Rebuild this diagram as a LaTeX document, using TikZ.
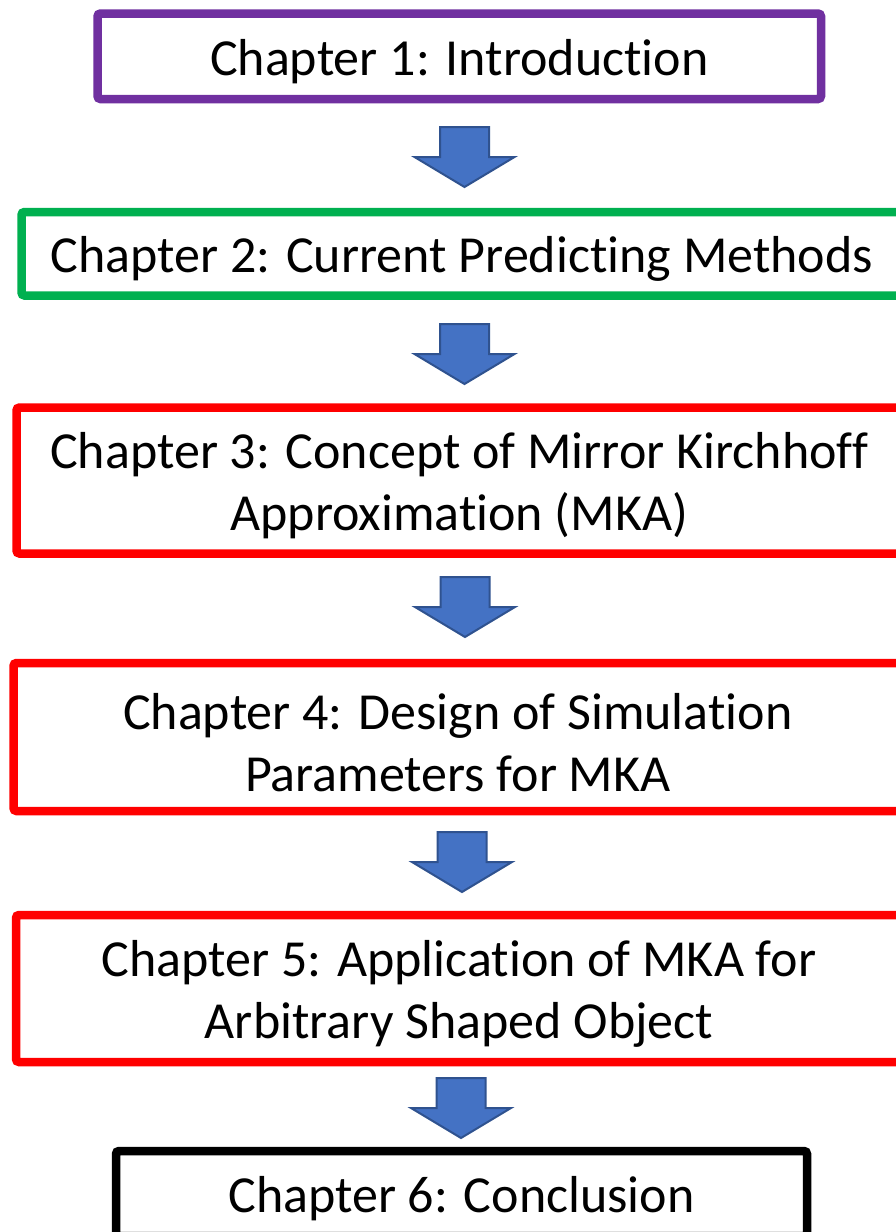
\documentclass[tikz,border=0pt]{standalone}
\usepackage{fontspec}
\setmainfont{Carlito}[Ligatures={NoCommon,NoContextual}, RawFeature={-calt}]
% extra headroom on the first line pushes each label a little below the box centre
\newcommand{\headroom}{\rule{0pt}{47pt}}
\begin{document}
\begin{tikzpicture}[x=1pt,y=-1pt,
  chapbox/.style={draw, line width=8.5pt, rounded corners=3pt, fill=white,
    inner sep=0pt, align=center, font=\fontsize{52}{62}\selectfont},
  blockarrow/.style={fill=arrowblue, draw=arrowedge, line width=2pt, line join=miter},
  downblock/.pic={
    \draw[blockarrow] (-24.5,0) -- (24.5,0) -- (24.5,30) -- (50,30)
      -- (0,60) -- (-50,30) -- (-24.5,30) -- cycle;}]
\definecolor{chpurple}{HTML}{7030A0}
\definecolor{chgreen}{HTML}{00B050}
\definecolor{chred}{HTML}{FF0000}
\definecolor{arrowblue}{HTML}{4472C4}
\definecolor{arrowedge}{HTML}{2F528F}
\clip (0,0) rectangle (896,1232);
\fill[white] (0,0) rectangle (896,1232);

% chapter boxes
\node[chapbox, draw=chpurple, minimum width=723.5pt, minimum height=85.5pt] (c1) at (459.25,56.25) {\headroom Chapter 1: Introduction};
\node[chapbox, draw=chgreen, minimum width=880.5pt, minimum height=83.5pt] (c2) at (461.75,253.75) {\headroom Chapter 2: Current Predicting Methods};
\node[chapbox, draw=chred, minimum width=885.5pt, minimum height=146pt] (c3) at (459.25,480.5) {\headroom Chapter 3: Concept of Mirror Kirchhoff\\Approximation (MKA)};
\node[chapbox, draw=chred, minimum width=888.5pt, minimum height=148pt] (c4) at (457.75,737) {\headroom Chapter 4: Design of Simulation\\Parameters for MKA};
\node[chapbox, draw=chred, minimum width=886pt, minimum height=147pt] (c5) at (459,988.5) {\headroom Chapter 5: Application of MKA for\\Arbitrary Shaped Object};
\node[chapbox, draw=black, minimum width=691pt, minimum height=85pt] (c6) at (461.5,1193.5) {\headroom Chapter 6: Conclusion};

% block arrows between chapters: shaft 49 wide, head 100 wide, 60 long
\pic (a1) at (464.5,127) {downblock};
\pic (a2) at (464.5,324) {downblock};
\pic (a3) at (465,577) {downblock};
\pic (a4) at (462,832) {downblock};
\pic (a5) at (461,1078) {downblock};
\end{tikzpicture}
\end{document}
